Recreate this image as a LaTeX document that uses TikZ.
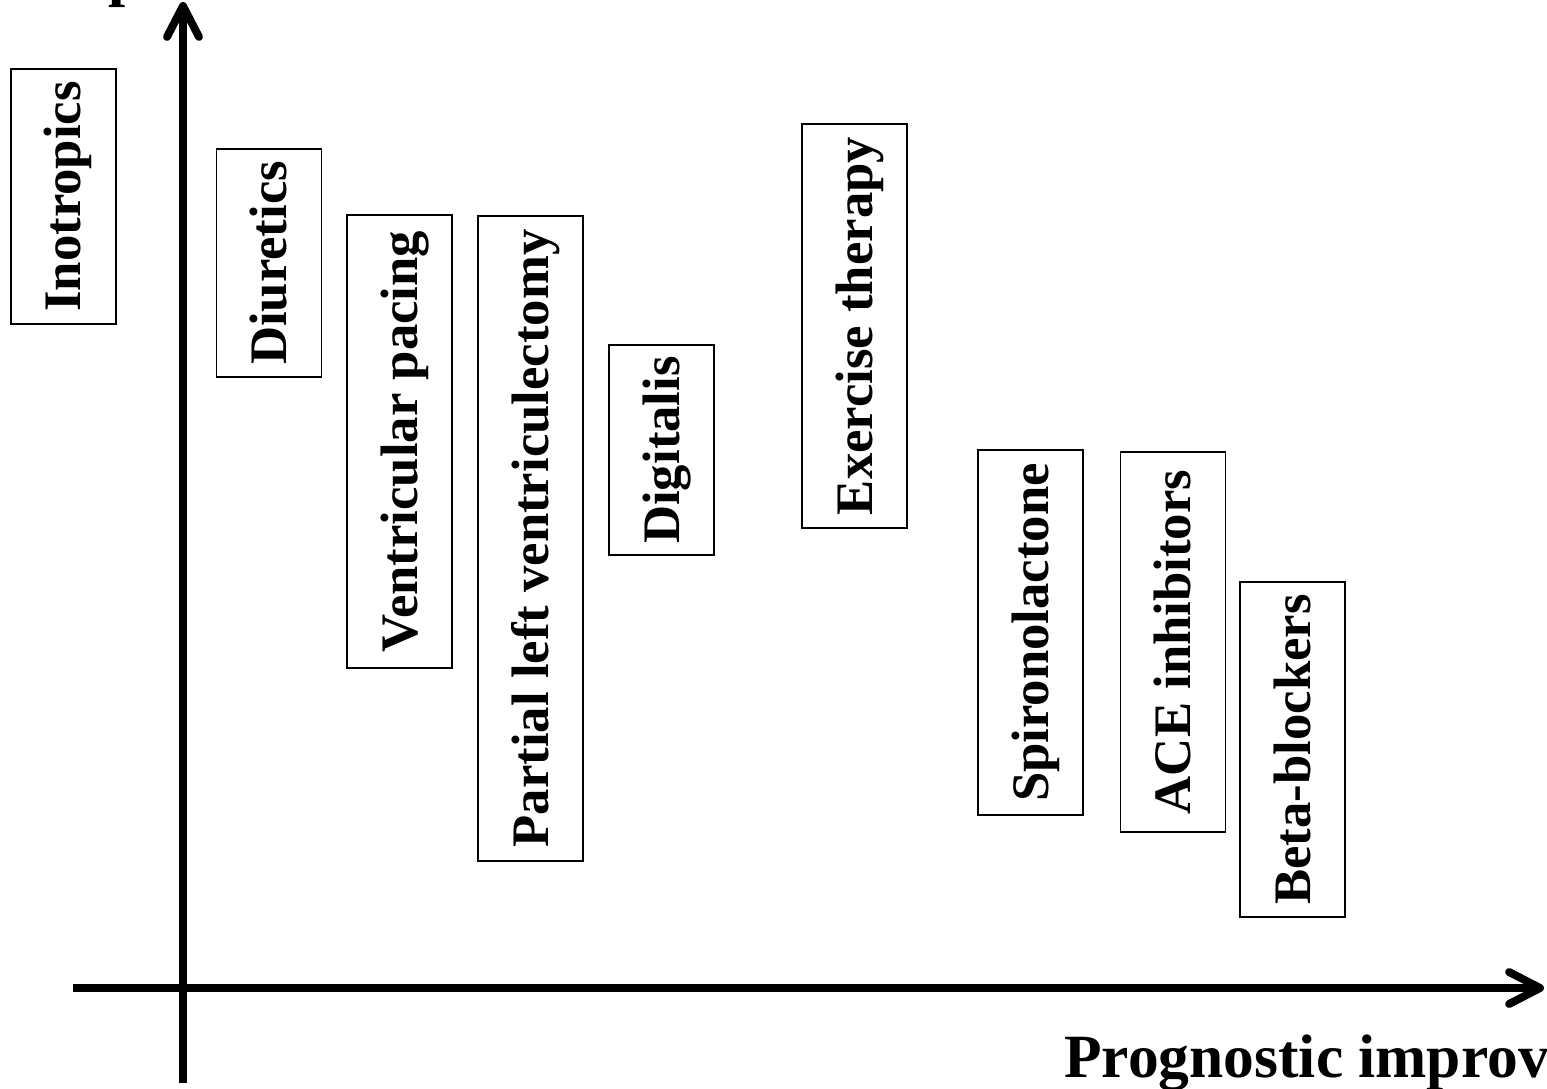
\documentclass[tikz,border=0pt]{standalone}
\usepackage{fontspec}
\setmainfont{Liberation Serif}
\usetikzlibrary{arrows.meta}

\tikzset{
	tbox/.style={draw, line width=1.1pt, rotate=90, minimum height=2.1cm,
		text height=0.7cm, text depth=0pt, font=\fontsize{30}{36}\selectfont\bfseries},
	axislabel/.style={anchor=base west, font=\fontsize{35}{42}\selectfont\bfseries},
	axisline/.style={line width=4.5pt, -{Straight Barb[length=0.62cm,width=0.64cm,round]}}
}

\begin{document}
\begin{tikzpicture}[x=0.02cm,y=0.02cm]
	\tikzstyle{every node}+=[inner sep=0pt]
	\useasboundingbox (0,0) rectangle (1547,-1088);
	% axes
	\coordinate (ybot) at (183,-1083);
	\coordinate (ytop) at (183,-2);
	\coordinate (xleft) at (73,-988);
	\coordinate (xright) at (1544,-988);
	\draw [axisline] (ybot) -- (ytop);
	\draw [axisline] (xleft) -- (xright);
	\node [axislabel] (ylab) at (108,5.5) {p};
	\node [axislabel] (xlab) at (1064,-1077) {Prognostic improvement};
	% treatments
	\node [tbox, minimum width=5.10cm] (ino) at (63.5,-196.5) {Inotropics};
	\node [tbox, minimum width=4.56cm] (diu) at (269,-263) {Diuretics};
	\node [tbox, minimum width=9.06cm] (pace) at (399.5,-441.5) {Ventricular pacing};
	\node [tbox, minimum width=12.90cm] (plv) at (530.5,-538.5) {Partial left ventriculectomy};
	\node [tbox, minimum width=4.20cm] (dig) at (661.5,-450) {Digitalis};
	\node [tbox, minimum width=8.08cm] (exer) at (854.5,-326) {Exercise therapy};
	\node [tbox, minimum width=7.30cm] (spiro) at (1030.5,-632.5) {Spironolactone};
	\node [tbox, minimum width=7.60cm] (ace) at (1173,-642) {ACE inhibitors};
	\node [tbox, minimum width=6.70cm] (beta) at (1292.5,-749.5) {Beta-blockers};
\end{tikzpicture}
\end{document}
